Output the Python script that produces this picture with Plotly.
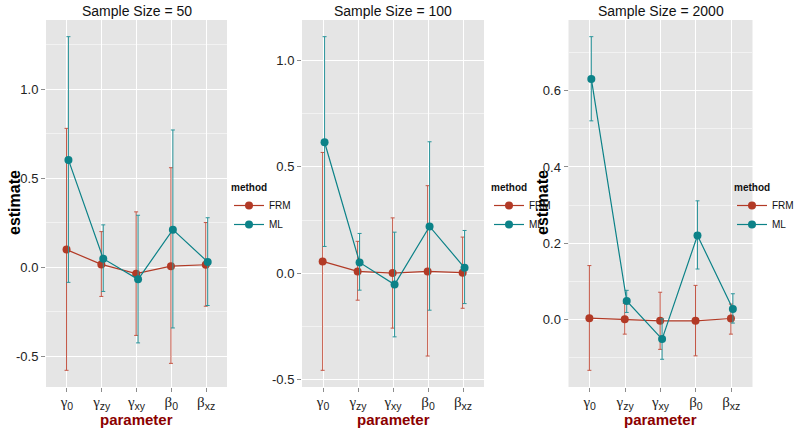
import plotly.graph_objects as go

# ---------------- data ----------------
param_labels = [
    '<span style="font-family:Liberation Serif">γ</span><sub>0</sub>',
    '<span style="font-family:Liberation Serif">γ</span><sub>zy</sub>',
    '<span style="font-family:Liberation Serif">γ</span><sub>xy</sub>',
    '<span style="font-family:Liberation Serif">β</span><sub>0</sub>',
    '<span style="font-family:Liberation Serif">β</span><sub>xz</sub>',
]
methods = ["FRM", "ML"]
sample_sizes = [50, 100, 2000]

# Sample size 50
frm_est_50 = [0.098, 0.015, -0.037, 0.005, 0.013]
frm_lo_50 = [-0.580, -0.165, -0.384, -0.541, -0.220]
frm_hi_50 = [0.779, 0.199, 0.310, 0.558, 0.250]
ml_est_50 = [0.602, 0.047, -0.069, 0.210, 0.029]
ml_lo_50 = [-0.086, -0.137, -0.426, -0.342, -0.216]
ml_hi_50 = [1.294, 0.237, 0.291, 0.770, 0.277]

# Sample size 100
frm_est_100 = [0.056, 0.009, 0.001, 0.009, 0.003]
frm_lo_100 = [-0.455, -0.126, -0.257, -0.388, -0.164]
frm_hi_100 = [0.567, 0.150, 0.260, 0.411, 0.170]
ml_est_100 = [0.615, 0.051, -0.053, 0.220, 0.026]
ml_lo_100 = [0.126, -0.079, -0.298, -0.173, -0.142]
ml_hi_100 = [1.110, 0.187, 0.193, 0.617, 0.201]

# Sample size 2000
frm_est_2000 = [0.003, 0.000, -0.004, -0.004, 0.002]
frm_lo_2000 = [-0.134, -0.039, -0.079, -0.096, -0.039]
frm_hi_2000 = [0.141, 0.042, 0.071, 0.089, 0.040]
ml_est_2000 = [0.631, 0.048, -0.052, 0.220, 0.027]
ml_lo_2000 = [0.521, 0.018, -0.105, 0.132, -0.010]
ml_hi_2000 = [0.742, 0.076, 0.001, 0.311, 0.067]

y_ticks_small = [-0.5, 0.0, 0.5, 1.0]
y_ticktext_small = ["-0.5", "0.0", "0.5", "1.0"]
y_ticks_large = [0.0, 0.2, 0.4, 0.6]
y_ticktext_large = ["0.0", "0.2", "0.4", "0.6"]

# ---------------- styling ----------------
W, H = 800, 431
colors = {"FRM": "#B23A26", "ML": "#0C8288"}
err_colors = {"FRM": "#C45544", "ML": "#2A959B"}
dodge = {"FRM": -0.01, "ML": 0.045}
panel_bg = "#E5E5E5"
sans = "Liberation Sans, Arial, sans-serif"

panels = [
    dict(n=50, data={"FRM": (frm_est_50, frm_lo_50, frm_hi_50),
                     "ML": (ml_est_50, ml_lo_50, ml_hi_50)},
         px=(46, 227), ticks=(y_ticks_small, y_ticktext_small), minor=0.25,
         legend_x=229, ylab_x=15),
    dict(n=100, data={"FRM": (frm_est_100, frm_lo_100, frm_hi_100),
                      "ML": (ml_est_100, ml_lo_100, ml_hi_100)},
         px=(302, 484), ticks=(y_ticks_small, y_ticktext_small), minor=0.25,
         legend_x=489, ylab_x=None),
    dict(n=2000, data={"FRM": (frm_est_2000, frm_lo_2000, frm_hi_2000),
                       "ML": (ml_est_2000, ml_lo_2000, ml_hi_2000)},
         px=(568.5, 752.5), ticks=(y_ticks_large, y_ticktext_large), minor=0.1,
         legend_x=732, ylab_x=543),
]

y_dom = [1 - 387 / H, 1 - 20 / H]

fig = go.Figure()
layout_updates = {}
annotations = []

for i, p in enumerate(panels):
    k = "" if i == 0 else str(i + 1)
    xa, ya = "x" + k, "y" + k
    leg = "legend" + k
    cat_x = list(range(1, len(param_labels) + 1))

    all_lo, all_hi = [], []
    for m in methods:
        est, lo, hi = p["data"][m]
        all_lo += lo
        all_hi += hi
        fig.add_trace(go.Scatter(
            x=[c + dodge[m] for c in cat_x], y=est,
            mode="lines+markers", name=m,
            line=dict(color=colors[m], width=1.2),
            marker=dict(color=colors[m], size=8),
            error_y=dict(type="data", symmetric=False,
                         array=[h - e for h, e in zip(hi, est)],
                         arrayminus=[e - l for e, l in zip(est, lo)],
                         color=err_colors[m], thickness=1, width=2),
            xaxis=xa, yaxis=ya, legend=leg, showlegend=True,
        ))

    lo_v, hi_v = min(all_lo), max(all_hi)
    pad = 0.05 * (hi_v - lo_v)
    tv, tt = p["ticks"]

    layout_updates["xaxis" + k] = dict(
        domain=[p["px"][0] / W, p["px"][1] / W], anchor=ya,
        range=[0.4, len(param_labels) + 0.6],
        tickmode="array", tickvals=cat_x, ticktext=param_labels,
        ticks="outside", ticklen=4, tickcolor="#8C8C8C", tickwidth=1,
        ticklabelstandoff=-3,
        showgrid=True, gridcolor="white", gridwidth=1.1, zeroline=False,
        showline=False, tickfont=dict(family=sans, size=15, color="#222"),
        fixedrange=True, automargin=False,
    )
    layout_updates["yaxis" + k] = dict(
        domain=y_dom, anchor=xa,
        range=[lo_v - pad, hi_v + pad],
        tickmode="array", tickvals=tv, ticktext=tt,
        ticks="outside", ticklen=4, tickcolor="#8C8C8C", tickwidth=1,
        showgrid=True, gridcolor="white", gridwidth=1.1, zeroline=False,
        showline=False, tickfont=dict(family=sans, size=13, color="#222"),
        minor=dict(tickmode="linear", tick0=0, dtick=p["minor"], showgrid=True,
                   gridcolor="#F2F2F2", gridwidth=0.6, ticks=""),
        fixedrange=True, automargin=False,
    )
    layout_updates[leg] = dict(
        x=p["legend_x"] / W, y=1 - 178 / H, xanchor="left", yanchor="top",
        title=dict(text="<b>method</b>", font=dict(family=sans, size=10, color="#111")),
        font=dict(family=sans, size=10, color="#111"),
        bgcolor="rgba(0,0,0,0)", itemwidth=30, tracegroupgap=0,
    )

    cx = (p["px"][0] + p["px"][1]) / 2 / W
    annotations.append(dict(
        text=f"Sample Size = {p['n']}", x=cx, y=1 - 11 / H,
        xref="paper", yref="paper", xanchor="center", yanchor="middle",
        showarrow=False, font=dict(family=sans, size=14, color="#111"),
    ))
    annotations.append(dict(
        text="<b>parameter</b>", x=cx, y=1 - 419 / H,
        xref="paper", yref="paper", xanchor="center", yanchor="middle",
        showarrow=False, font=dict(family=sans, size=15, color="#8B0000"),
    ))
    if p["ylab_x"] is not None:
        annotations.append(dict(
            text="<b>estimate</b>", x=p["ylab_x"] / W, y=1 - 203 / H,
            xref="paper", yref="paper", xanchor="center", yanchor="middle",
            textangle=-90, showarrow=False,
            font=dict(family=sans, size=16, color="#000"),
        ))

fig.update_layout(
    width=W, height=H,
    margin=dict(l=0, r=0, t=0, b=0, autoexpand=False),
    paper_bgcolor="white", plot_bgcolor=panel_bg,
    annotations=annotations,
    **layout_updates,
)

fig.write_html(
    "out.html",
    config={"displayModeBar": False},
    post_script="document.body.style.margin='0';document.body.style.overflow='hidden';",
)
